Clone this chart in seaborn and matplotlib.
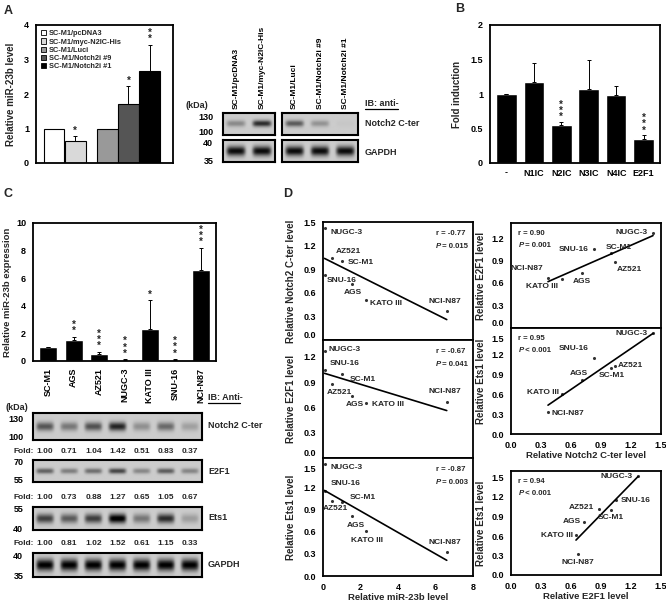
import numpy as np
import pandas as pd
import matplotlib
matplotlib.use('Agg')
import matplotlib.pyplot as plt
import seaborn as sns
from matplotlib.patches import Patch
from matplotlib.lines import Line2D

sns.set_theme(style='white')
plt.rcParams['font.family'] = ['Liberation Sans', 'DejaVu Sans']
plt.rcParams['font.weight'] = 'bold'
plt.rcParams['axes.labelweight'] = 'bold'

# ---------------- data ----------------
a_groups = ['SC-M1/pcDNA3', 'SC-M1/myc-N2IC-His', 'SC-M1/Luci', 'SC-M1/Notch2i #9', 'SC-M1/Notch2i #1']
a_vals = [1.0, 0.65, 1.0, 1.7, 2.68]
a_err = [0.0, 0.12, 0.0, 0.52, 0.75]
a_sig = ['', '*', '', '*', '**']
a_colors = ['#ffffff', '#d9d9d9', '#999999', '#555555', '#000000']
a_notch2_band = [0.35, 0.85, 0.6, 0.3, 0.03]
a_gapdh_band = [0.95, 0.95, 0.95, 0.95, 0.95]

b_groups = ['-', 'N1IC', 'N2IC', 'N3IC', 'N4IC', 'E2F1']
b_vals = [1.0, 1.18, 0.55, 1.07, 0.98, 0.35]
b_err = [0.0, 0.27, 0.04, 0.43, 0.14, 0.05]
b_sig = ['', '', '***', '', '', '***']

cells = ['SC-M1', 'AGS', 'AZ521', 'NUGC-3', 'KATO III', 'SNU-16', 'NCI-N87']
mir23b = [1.0, 1.55, 0.5, 0.08, 2.3, 0.1, 6.6]
mir23b_err = [0.0, 0.2, 0.15, 0.03, 2.1, 0.03, 1.6]
mir23b_sig = ['', '**', '***', '***', '*', '***', '***']
notch2_fold = [1.00, 0.71, 1.04, 1.42, 0.51, 0.83, 0.37]
e2f1_fold = [1.00, 0.73, 0.88, 1.27, 0.65, 1.05, 0.67]
ets1_fold = [1.00, 0.81, 1.02, 1.52, 0.61, 1.15, 0.33]
gapdh_band = [0.95, 0.95, 0.95, 0.95, 0.95, 0.95, 0.95]

corr_left = [('r = -0.77', '= 0.015'), ('r = -0.67', '= 0.041'), ('r = -0.87', '= 0.003')]
corr_right = [('r = 0.90', '= 0.001'), ('r = 0.95', '< 0.001'), ('r = 0.94', '< 0.001')]

df = pd.DataFrame({'cell': cells, 'mir': mir23b, 'notch2': notch2_fold,
                   'e2f1': e2f1_fold, 'ets1': ets1_fold})

W, H = 666, 603
fig = plt.figure(figsize=(6.66, 6.03), dpi=100)
fig.patch.set_facecolor('white')


def box(x0, y0, x1, y1):
    return [x0 / W, 1 - y1 / H, (x1 - x0) / W, (y1 - y0) / H]


def ftext(x, y, s, **kw):
    kw.setdefault('fontsize', 6.5)
    kw.setdefault('fontweight', 'bold')
    return fig.text(x / W, 1 - y / H, s, **kw)


def style_axes(ax, lw=1.3):
    for sp in ax.spines.values():
        sp.set_linewidth(lw)
        sp.set_color('black')
    ax.tick_params(labelsize=6.5, direction='out', length=3, width=1, colors='black', pad=2)


def stars(ax, xs, tops, sig, pad, fs=7):
    for x, t, s in zip(xs, tops, sig):
        if s:
            ax.text(x, t + pad, '\n'.join(s), ha='center', va='bottom', fontsize=fs,
                    fontweight='bold', linespacing=0.55)


def blot(ax, intens, bg=0.8, sigma=0.2, thick=0.75, ticks=None):
    n = len(intens)
    nx, ny = n * 40, 40
    xs = (np.arange(nx) + 0.5) / nx * n
    ys = (np.arange(ny) + 0.5) / ny
    img = np.full((ny, nx), bg)
    for i, v in enumerate(intens):
        px = np.exp(-((xs - (i + 0.5)) / 0.36) ** 6)
        py = np.exp(-((ys - 0.5) / sigma) ** 2)
        img -= v * thick * np.outer(py, px)
    ax.imshow(np.clip(img, 0, 1), cmap='gray', vmin=0, vmax=1, extent=(0, n, 0, 1),
              aspect='auto', origin='lower', interpolation='bilinear')
    ax.set_xlim(0, n)
    ax.set_ylim(0, 1)
    style_axes(ax, 1.5)
    ax.set_xticks([])
    if ticks:
        ax.set_yticks(ticks[0], ticks[1])
        ax.tick_params(axis='y', length=6, width=1.3, labelsize=6.5, pad=1)
    else:
        ax.set_yticks([])


# ---------------- Panel A: bars ----------------
axA = fig.add_axes(box(36, 25, 173, 163))
posA = [0.0, 1.0, 2.5, 3.5, 4.5]
dfa = pd.DataFrame({'pos': posA, 'val': a_vals, 'grp': a_groups})
sns.barplot(data=dfa, x='pos', y='val', hue='grp', hue_order=a_groups, palette=a_colors,
            native_scale=True, dodge=False, width=0.98, edgecolor='black', linewidth=0.8,
            legend=False, ax=axA)
axA.errorbar(posA, a_vals, yerr=[np.zeros(5), a_err], fmt='none', ecolor='black',
             elinewidth=0.7, capsize=1.5, capthick=0.7)
stars(axA, posA, np.array(a_vals) + np.array(a_err), a_sig, 0.02)
axA.set_xlim(-0.85, 5.6)
axA.set_ylim(0, 4)
axA.set_yticks([0, 1, 2, 3, 4])
axA.set_xticks([])
axA.set_xlabel('')
axA.set_ylabel('Relative miR-23b level', fontsize=7, labelpad=6)
style_axes(axA)
handles = [Patch(facecolor=c, edgecolor='black', linewidth=0.6) for c in a_colors]
axA.legend(handles, a_groups, loc='upper left', frameon=False,
           handlelength=0.7, handleheight=0.7, labelspacing=0.15, handletextpad=0.3,
           borderaxespad=0.3, prop={'weight': 'bold', 'size': 5.3})

# ---------------- Panel A: blot ----------------
b1 = fig.add_axes(box(223, 113, 275, 135))
blot(b1, a_notch2_band[:2], sigma=0.14, ticks=([0.85, 0.15], ['130', '100']))
b2 = fig.add_axes(box(223, 140, 275, 162))
blot(b2, a_gapdh_band[:2], sigma=0.22, thick=0.8, ticks=([0.9, 0.05], ['40', '35']))
b3 = fig.add_axes(box(282, 113, 358, 135))
blot(b3, a_notch2_band[2:], sigma=0.14)
b4 = fig.add_axes(box(282, 140, 358, 162))
blot(b4, a_gapdh_band[2:], sigma=0.22, thick=0.8)
for ax, labs in ((b1, a_groups[:2]), (b3, a_groups[2:])):
    ax.xaxis.tick_top()
    ax.set_xticks(np.arange(len(labs)) + 0.5, labs, rotation=90, fontsize=6)
    ax.tick_params(axis='x', length=0, pad=3)
ftext(186, 108, '(kDa)', fontsize=6.5)
ftext(365, 106, 'IB: anti-', fontsize=6.5)
fig.add_artist(Line2D([365 / W, 398 / W], [1 - 109 / H, 1 - 109 / H], color='black', lw=0.9))
ftext(365, 126, 'Notch2 C-ter', fontsize=6.5)
ftext(365, 155, 'GAPDH', fontsize=6.5)

# ---------------- Panel B ----------------
axB = fig.add_axes(box(490, 25, 660, 163))
dfb = pd.DataFrame({'grp': b_groups, 'val': b_vals})
sns.barplot(data=dfb, x='grp', y='val', color='black', width=0.75, saturation=1, ax=axB)
xb = np.arange(len(b_groups))
axB.errorbar(xb, b_vals, yerr=[np.zeros(len(xb)), b_err], fmt='none', ecolor='black',
             elinewidth=0.7, capsize=1.5, capthick=0.7)
stars(axB, xb, np.array(b_vals) + np.array(b_err), b_sig, 0.0)
axB.set_ylim(0, 2)
axB.set_yticks([0, 0.5, 1, 1.5, 2], ['0', '0.5', '1', '1.5', '2'])
axB.set_xlim(-0.6, 5.6)
axB.set_xlabel('')
axB.set_ylabel('Fold induction', fontsize=7, labelpad=6)
style_axes(axB)
axB.tick_params(axis='x', length=0, pad=4)

# ---------------- Panel C: bars ----------------
axC = fig.add_axes(box(33, 223, 216, 361))
sns.barplot(data=df, x='cell', y='mir', color='black', width=0.7, saturation=1, ax=axC)
xc = np.arange(len(cells))
axC.errorbar(xc, mir23b, yerr=[np.zeros(len(xc)), mir23b_err], fmt='none', ecolor='black',
             elinewidth=0.7, capsize=1.5, capthick=0.7)
stars(axC, xc, np.array(mir23b) + np.array(mir23b_err), mir23b_sig, 0.05)
axC.set_ylim(0, 10)
axC.set_yticks([0, 2, 4, 6, 8, 10])
axC.set_xlim(-0.6, 6.6)
axC.set_xlabel('')
axC.set_ylabel('Relative miR-23b expression', fontsize=6.8, labelpad=3)
style_axes(axC)
axC.set_xticks(xc, cells, rotation=90, fontsize=6.5)
axC.tick_params(axis='x', length=0, pad=5)

# ---------------- Panel C: blots ----------------
rows = [
    ((33, 413, 202, 440), [v * 0.55 for v in notch2_fold], 0.16, ([0.8, 0.12], ['130', '100']), 'Notch2 C-ter', 428),
    ((33, 460, 202, 482), [v * 0.5 for v in e2f1_fold], 0.12, ([0.95, 0.12], ['70', '55']), 'E2F1', 474),
    ((33, 507, 202, 530), [v * 0.65 for v in ets1_fold], 0.2, ([0.95, 0.05], ['55', '40']), 'Ets1', 520),
    ((33, 553, 202, 577), gapdh_band, 0.24, ([0.9, 0.05], ['40', '35']), 'GAPDH', 567),
]
for bx, inten, sg, tk, lab, ly in rows:
    ax = fig.add_axes(box(*bx))
    blot(ax, inten, sigma=sg, thick=0.85, ticks=tk)
    ftext(208, ly, lab, fontsize=6.5)
ftext(5, 410, '(kDa)', fontsize=6.5)
ftext(208, 400, 'IB: Anti-', fontsize=6.5)
fig.add_artist(Line2D([208 / W, 240 / W], [1 - 403 / H, 1 - 403 / H], color='black', lw=0.9))

lane_x = [33 + (i + 0.5) * (202 - 33) / 7 for i in range(7)]
for fy, vals in ((453, notch2_fold), (499, e2f1_fold), (545, ets1_fold)):
    ftext(13, fy, 'Fold:', fontsize=6)
    for lx, v in zip(lane_x, vals):
        ftext(lx, fy, f'{v:.2f}', fontsize=6, ha='center')

# ---------------- Panel D ----------------
lab_left = [
    {'NUGC-3': (0.3, -0.05, 'left'), 'AZ521': (0.2, 0.08, 'left'), 'SC-M1': (0.3, -0.01, 'left'),
     'SNU-16': (0.1, -0.07, 'left'), 'AGS': (-0.45, -0.11, 'left'), 'KATO III': (0.2, -0.05, 'left'),
     'NCI-N87': (-0.1, 0.12, 'center')},
    {'NUGC-3': (0.2, 0.02, 'left'), 'SNU-16': (0.25, 0.07, 'left'), 'SC-M1': (0.4, -0.07, 'left'),
     'AZ521': (-0.3, -0.1, 'left'), 'AGS': (-0.35, -0.1, 'left'), 'KATO III': (0.3, -0.01, 'left'),
     'NCI-N87': (-0.1, 0.12, 'center')},
    {'NUGC-3': (0.3, -0.05, 'left'), 'SNU-16': (0.3, 0.1, 'left'), 'SC-M1': (0.4, 0.06, 'left'),
     'AZ521': (-0.5, -0.1, 'left'), 'AGS': (-0.3, -0.12, 'left'), 'KATO III': (-0.8, -0.13, 'left'),
     'NCI-N87': (-0.1, 0.12, 'center')},
]
left_boxes = [(323, 222, 473, 340), (323, 340, 473, 458), (323, 458, 473, 576)]
left_y = [('notch2', 'Relative Notch2 C-ter level', 1.5, [0, 0.3, 0.6, 0.9, 1.2, 1.5]),
          ('e2f1', 'Relative E2F1 level', 1.4, [0, 0.3, 0.6, 0.9, 1.2]),
          ('ets1', 'Relative Ets1 level', 1.6, [0, 0.3, 0.6, 0.9, 1.2, 1.5])]


def corr_text(ax, x, y, r, p):
    ax.text(x, y, r, transform=ax.transAxes, fontsize=5.6, fontweight='bold', va='top')
    ax.text(x, y - 0.11, 'P', transform=ax.transAxes, fontsize=5.6, fontweight='bold',
            style='italic', va='top')
    ax.annotate(' ' + p, xy=(x, y - 0.11), xycoords='axes fraction', xytext=(3.2, 0),
                textcoords='offset points', fontsize=5.6, fontweight='bold', va='top')


def scatter_panel(ax, xcol, ycol, xlim, xticks, ylim, yticks, labs):
    sns.regplot(data=df, x=xcol, y=ycol, ci=None, truncate=True, ax=ax,
                scatter_kws=dict(s=5, color='black', linewidths=0),
                line_kws=dict(color='black', lw=1.2))
    ax.set_xlim(*xlim)
    ax.set_ylim(0, ylim)
    ax.set_yticks(yticks, [f'{t:.1f}' for t in yticks])
    ax.set_xticks(xticks)
    style_axes(ax)
    for _, row in df.iterrows():
        dx, dy, ha = labs[row['cell']]
        ax.text(row[xcol] + dx, row[ycol] + dy, row['cell'], fontsize=6, fontweight='bold',
                ha=ha, va='center')


def squeeze_edge_labels(ax, top_panel, bottom_panel):
    labels = ax.get_yticklabels()
    if top_panel:
        labels[0].set_va('bottom')
    if bottom_panel:
        labels[-1].set_va('top')


for i, (bx, (ycol, ylab, ymax, yt), labs) in enumerate(zip(left_boxes, left_y, lab_left)):
    ax = fig.add_axes(box(*bx))
    scatter_panel(ax, 'mir', ycol, (0, 8), [0, 2, 4, 6, 8], ymax, yt, labs)
    ax.set_ylabel(ylab, fontsize=7, labelpad=5)
    if i < 2:
        ax.set_xticklabels([])
        ax.tick_params(axis='x', length=0)
        ax.set_xlabel('')
    else:
        ax.set_xticklabels(['0', '2', '4', '6', '8'])
        ax.set_xlabel('Relative miR-23b level', fontsize=6.8, labelpad=0.5)
    squeeze_edge_labels(ax, i < 2, i == 2)
    corr_text(ax, 0.75, 0.93, *corr_left[i])

lab_right = [
    {'NUGC-3': (-0.05, 0.0, 'right'), 'SNU-16': (-0.05, 0.0, 'right'), 'SC-M1': (-0.05, 0.07, 'left'),
     'AZ521': (0.02, -0.1, 'left'), 'AGS': (0.0, -0.11, 'center'), 'KATO III': (-0.04, -0.1, 'right'),
     'NCI-N87': (-0.05, 0.12, 'right')},
    {'NUGC-3': (-0.05, 0.0, 'right'), 'SNU-16': (-0.05, 0.14, 'right'), 'SC-M1': (0.01, -0.12, 'center'),
     'AZ521': (0.03, 0.02, 'left'), 'AGS': (-0.12, 0.1, 'left'), 'KATO III': (-0.03, 0.02, 'right'),
     'NCI-N87': (0.04, -0.02, 'left')},
    {'NUGC-3': (-0.05, 0.0, 'right'), 'SNU-16': (0.05, 0.0, 'left'), 'SC-M1': (0.0, -0.12, 'center'),
     'AZ521': (-0.05, 0.02, 'right'), 'AGS': (-0.03, 0.01, 'right'), 'KATO III': (-0.03, 0.0, 'right'),
     'NCI-N87': (0.0, -0.13, 'center')},
]
right_boxes = [(511, 223, 661, 328), (511, 328, 661, 434), (511, 471, 661, 575)]
right_spec = [('notch2', 'e2f1', 'Relative E2F1 level', 1.4, [0, 0.3, 0.6, 0.9, 1.2]),
              ('notch2', 'ets1', 'Relative Ets1 level', 1.6, [0, 0.3, 0.6, 0.9, 1.2, 1.5]),
              ('e2f1', 'ets1', 'Relative Ets1 level', 1.6, [0, 0.3, 0.6, 0.9, 1.2, 1.5])]
rxt = [0, 0.3, 0.6, 0.9, 1.2, 1.5]
for i, (bx, (xcol, ycol, ylab, ymax, yt), labs) in enumerate(zip(right_boxes, right_spec, lab_right)):
    ax = fig.add_axes(box(*bx))
    scatter_panel(ax, xcol, ycol, (0, 1.5), rxt, ymax, yt, labs)
    ax.set_ylabel(ylab, fontsize=7, labelpad=4)
    if i == 0:
        ax.set_xticklabels([])
        ax.tick_params(axis='x', length=0)
        ax.set_xlabel('')
    else:
        ax.set_xticklabels([f'{t:.1f}' for t in rxt])
        ax.set_xlabel('Relative Notch2 C-ter level' if i == 1 else 'Relative E2F1 level',
                      fontsize=6.8, labelpad=0.5)
    squeeze_edge_labels(ax, i == 0, i == 1)
    corr_text(ax, 0.05, 0.93, *corr_right[i])

# panel letters
ftext(4, 14, 'A', fontsize=9)
ftext(455, 12, 'B', fontsize=9)
ftext(4, 197, 'C', fontsize=9)
ftext(283, 197, 'D', fontsize=9)

fig.savefig('out.png', dpi=100, facecolor='white')
